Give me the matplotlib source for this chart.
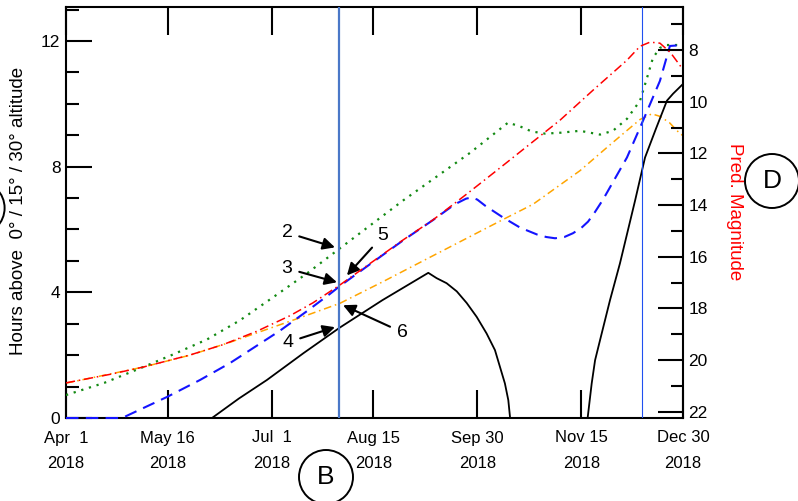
import numpy as np
import matplotlib
matplotlib.use("Agg")
import matplotlib.pyplot as plt
from matplotlib.patches import Ellipse
from matplotlib.ticker import MultipleLocator

plt.rcParams["font.family"] = ["Liberation Sans", "DejaVu Sans"]

# Days are counted from 2018-04-01
start = np.datetime64("2018-04-01")

# Hours above 30 deg altitude (black)
black_day = [0, 64.6, 76.5, 88.9, 105, 121.2, 140, 160.3, 164.0, 168.4, 172.9, 177.3, 181.7,
             186.1, 189.8, 192.0, 194.2, 195.7, 196.5,
             230.8, 232.6, 234.1, 236.3, 240.7, 245.1, 251.8, 256.2, 261.0, 265.9, 268.6, 273]
black_hrs = [0, 0, 0.62, 1.21, 2.06, 2.88, 3.75, 4.62, 4.45, 4.29, 4.03, 3.66, 3.22,
             2.69, 2.16, 1.63, 1.10, 0.57, 0,
             0, 1.10, 1.84, 2.48, 3.75, 4.92, 6.92, 8.29, 9.20, 10.10, 10.32, 10.63]

# Hours above 0 deg altitude (green)
green_day = [0, 17, 34.1, 47.3, 62.4, 77.0, 91.6, 106.6, 121.2, 149.1, 178.8, 195.6, 200.9,
             206, 212, 219, 227.4, 236.3, 242.0, 248.2, 254.0, 257.1, 259.7, 262.8, 265.9, 273]
green_hrs = [0.73, 1.12, 1.62, 2.02, 2.50, 3.11, 3.84, 4.60, 5.40, 6.92, 8.44, 9.40, 9.28,
             9.12, 9.05, 9.08, 9.14, 9.02, 9.14, 9.52, 10.10, 10.83, 11.46, 11.78, 11.87, 11.87]

# Hours above 15 deg altitude (blue)
blue_day = [0, 23.9, 25.7, 44.7, 59.3, 72.6, 81.4, 94.7, 106.6, 116.8, 121.2, 135, 149.1,
            162.4, 172, 177, 179.6, 182, 185.4, 193.4, 200.9, 208.4, 212.5, 216.4, 220.5,
            224.3, 228, 231, 234, 237.6, 248.2, 255.3, 262.8, 267.2, 273]
blue_hrs = [0, 0, 0.03, 0.67, 1.21, 1.75, 2.16, 2.78, 3.40, 3.95, 4.20, 4.92, 5.65,
            6.30, 6.80, 6.98, 7.02, 6.95, 6.76, 6.38, 6.06, 5.84, 5.76, 5.72, 5.76,
            5.88, 6.05, 6.25, 6.55, 6.95, 8.29, 9.46, 10.73, 11.84, 11.87]

# Orange dash-dot curve (hours)
orange_day = [0, 19.5, 34.1, 54.9, 72.6, 91.6, 106.6, 121.2, 140, 160.1, 180, 195.1, 206.6,
              227.4, 240, 248.2, 254.0, 259.2, 262.8, 267, 270.4, 273]
orange_hrs = [1.11, 1.40, 1.62, 2.00, 2.41, 2.89, 3.27, 3.65, 4.33, 5.08, 5.82, 6.38, 6.80,
              7.87, 8.65, 9.15, 9.50, 9.68, 9.60, 9.40, 9.14, 8.98]

# Predicted magnitude (red, right axis)
red_day = [0, 19.5, 34.1, 54.9, 69.5, 84.5, 99.1, 109.3, 121.2, 149.1, 162.4, 177.9, 192.0,
           200.9, 218.6, 233.2, 248.2, 254.0, 258.4, 262.8, 267.5, 273]
red_mag = [20.88, 20.55, 20.27, 19.80, 19.40, 18.88, 18.28, 17.78, 17.09, 15.35, 14.57, 13.53,
           12.56, 11.94, 10.71, 9.55, 8.39, 7.85, 7.69, 7.73, 8.10, 8.75]

tick_dates = ["2018-04-01", "2018-05-16", "2018-07-01", "2018-08-15",
              "2018-09-30", "2018-11-15", "2018-12-30"]
tick_labels = ["Apr  1\n2018", "May 16\n2018", "Jul  1\n2018", "Aug 15\n2018",
               "Sep 30\n2018", "Nov 15\n2018", "Dec 30\n2018"]
marker_date = "2018-07-31"
now_date = "2018-12-12"

def to_day(s):
    return float((np.datetime64(s) - start).astype(int))

tick_pos = [to_day(s) for s in tick_dates]

W, H = 798, 501
fig = plt.figure(figsize=(W / 100, H / 100), dpi=100)
fig.subplots_adjust(left=66 / W, right=683 / W, bottom=1 - 418 / H, top=1 - 7 / H)
ax = fig.add_subplot(111)
ax2 = ax.twinx()
for side in ("left", "top", "bottom"):
    ax2.spines[side].set_visible(False)
ax.spines["right"].set_visible(False)

ax.plot(black_day, black_hrs, color="black", lw=1.3, zorder=3)
ax.plot(green_day, green_hrs, color="#138a13", lw=1.6, linestyle=(0, (1, 2.6)), zorder=3)
ax.plot(orange_day, orange_hrs, color="#ffa500", lw=1.1, linestyle=(0, (5, 2.5, 1, 2.5)), zorder=2)
ax.plot(blue_day, blue_hrs, color="#1414ff", lw=1.5, linestyle=(0, (6, 3.5)), zorder=3,
        clip_on=False)
ax2.plot(red_day, red_mag, color="#ff0000", lw=1.1, linestyle=(0, (6, 2.5, 1, 2.5)), zorder=2)

ax.axvline(to_day(marker_date), color="#4a78c8", lw=1.6, zorder=4)
ax.axvline(to_day(now_date), color="#2050f0", lw=0.8, zorder=4)

ax.set_xlim(tick_pos[0], tick_pos[-1])
ax.set_ylim(0, 13.08)
ax2.set_ylim(22.24, 6.33)

ax.set_xticks(tick_pos)
ax.set_xticklabels(tick_labels, fontsize=12)
for lab in ax.get_xticklabels():
    lab.set_linespacing(1.9)
ax.set_yticks([0, 4, 8, 12])
ax.yaxis.set_minor_locator(MultipleLocator(1))
ax.tick_params(axis="x", direction="in", length=20, width=1.5, top=True, pad=9)
ax.tick_params(axis="y", which="major", direction="in", length=19, width=1.5, labelsize=12.5, pad=4)
ax.tick_params(axis="y", which="minor", direction="in", length=9, width=1.5)
ax.tick_params(axis="y", which="both", right=False)

ax2.set_yticks([8, 10, 12, 14, 16, 18, 20, 22])
ax2.yaxis.set_minor_locator(MultipleLocator(1))
ax2.tick_params(axis="y", which="major", direction="in", length=18, width=1.5, labelsize=12.5, pad=4)
ax2.tick_params(axis="y", which="minor", direction="in", length=8.5, width=1.5)

for a in (ax, ax2):
    for sp in a.spines.values():
        sp.set_linewidth(1.5)

fig.text(19 / W, 1 - 211 / H, "Hours above  0\u00b0 / 15\u00b0 / 30\u00b0 altitude",
         rotation=90, ha="center", va="center", fontsize=13.5)
fig.text(734 / W, 1 - 212 / H, "Pred. Magnitude", rotation=270, ha="center", va="center",
         fontsize=13.5, color="red")

# Numbered call-outs at the marker date
arrow = dict(arrowstyle="-|>", color="black", lw=1.5, mutation_scale=18, shrinkA=3, shrinkB=0)
callouts = [
    ("2", (97.8, 5.90), (119.0, 5.43)),
    ("3", (97.8, 4.76), (119.9, 4.32)),
    ("4", (98.2, 2.41), (119.0, 2.89)),
    ("5", (140.3, 5.81), (124.3, 4.54)),
    ("6", (148.7, 2.73), (122.6, 3.59)),
]
for txt, tpos, hpos in callouts:
    ax.annotate(txt, xy=hpos, xytext=tpos, ha="center", va="center", fontsize=14,
                arrowprops=arrow, zorder=6)

# Circled panel letters
def circle(cx, cy, r, letter=None):
    fig.add_artist(Ellipse((cx / W, 1 - cy / H), 2 * r / W, 2 * r / H,
                           transform=fig.transFigure, fill=False, lw=1.4, color="black",
                           clip_on=False))
    if letter:
        fig.text(cx / W, 1 - cy / H, letter, ha="center", va="center", fontsize=19)

circle(326, 477, 27, "B")
circle(772, 181, 27, "D")
circle(-22.4, 208, 27)

fig.savefig("out.png", dpi=100)
